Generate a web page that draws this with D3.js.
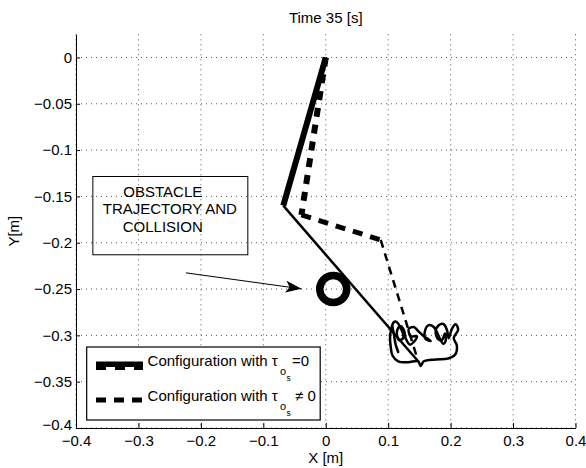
<!DOCTYPE html>
<html>
<head>
<meta charset="utf-8">
<script src="https://cdn.jsdelivr.net/npm/d3@7"></script>
<style>
  body { margin: 0; background: #fff; }
  text { font-family: "Liberation Sans", Arial, Helvetica, sans-serif; fill: #000; }
</style>
</head>
<body>
<div id="chart"></div>
<script>
// Chart data
var xTicks = [-0.4, -0.3, -0.2, -0.1, 0, 0.1, 0.2, 0.3, 0.4];
var xTickLabels = ["\u22120.4", "\u22120.3", "\u22120.2", "\u22120.1", "0", "0.1", "0.2", "0.3", "0.4"];
var yTicks = [-0.4, -0.35, -0.3, -0.25, -0.2, -0.15, -0.1, -0.05, 0];
var yTickLabels = ["\u22120.4", "\u22120.35", "\u22120.3", "\u22120.25", "\u22120.2", "\u22120.15", "\u22120.1", "\u22120.05", "0"];

// configuration with tau = 0 (solid): joints base, elbow, end
var solidX = [0, -0.068, 0.148];
var solidY = [0, -0.160, -0.328];
// configuration with tau != 0 (dashed)
var dashX = [0, -0.039, 0.088, 0.148];
var dashY = [0, -0.170, -0.197, -0.328];

// obstacle
var obstacleX = [0.012];
var obstacleY = [-0.250];

// obstacle trajectory (scribble)
var trajX = [0.106, 0.103, 0.104, 0.107, 0.116, 0.132, 0.148, 0.152, 0.157, 0.176, 0.196, 0.207, 0.210, 0.205,
  0.212, 0.208, 0.202, 0.197, 0.194, 0.189, 0.181, 0.176, 0.180, 0.186, 0.191, 0.192, 0.188, 0.173, 0.165,
  0.159, 0.160, 0.168, 0.157, 0.149, 0.141, 0.133, 0.136, 0.146, 0.141, 0.135, 0.128, 0.125, 0.119, 0.114,
  0.117, 0.124, 0.120, 0.112, 0.107, 0.109, 0.112, 0.116];
var trajY = [-0.290, -0.301, -0.312, -0.322, -0.328, -0.329, -0.328, -0.333, -0.328, -0.326, -0.325, -0.321,
  -0.311, -0.303, -0.294, -0.288, -0.293, -0.303, -0.294, -0.288, -0.289, -0.296, -0.304, -0.305, -0.298,
  -0.306, -0.309, -0.291, -0.289, -0.295, -0.304, -0.306, -0.301, -0.296, -0.291, -0.293, -0.301, -0.301,
  -0.307, -0.310, -0.303, -0.294, -0.290, -0.296, -0.305, -0.303, -0.292, -0.285, -0.288, -0.298, -0.310, -0.318];

// annotation (data coords)
var noteBox = [-0.373, -0.1285, -0.1248, -0.213];   // x0, y0, x1, y1
var noteLines = ["OBSTACLE", "TRAJECTORY AND", "COLLISION"];
var noteLineX = [-0.261, -0.2497, -0.261];
var noteLineY = [-0.1506, -0.1693, -0.188];
var arrowX = [-0.224, -0.0388];
var arrowY = [-0.2325, -0.2498];

// Chart params
var svgWidth = 586;
var svgHeight = 468;
var margin = { top: 34.3, right: 10.5, bottom: 40, left: 76 };
var width = svgWidth - margin.left - margin.right;
var height = svgHeight - margin.top - margin.bottom;

var svg = d3.select("#chart")
  .append("svg")
  .attr("width", svgWidth)
  .attr("height", svgHeight);

svg.append("rect").attr("width", svgWidth).attr("height", svgHeight).attr("fill", "#fff");

var chartGroup = svg.append("g")
  .attr("transform", `translate(${margin.left}, ${margin.top})`);

var xScale = d3.scaleLinear().domain([-0.4, 0.4]).range([0, width]);
var yScale = d3.scaleLinear().domain([-0.4, 0.025]).range([height, 0]);

// Grid
chartGroup.append("g")
  .selectAll("line.vgrid")
  .data(xTicks)
  .enter()
  .append("line")
  .attr("x1", d => xScale(d)).attr("x2", d => xScale(d))
  .attr("y1", 0).attr("y2", height)
  .attr("stroke", "#555").attr("stroke-width", 1).attr("stroke-dasharray", "1,4");

chartGroup.append("g")
  .selectAll("line.hgrid")
  .data(yTicks)
  .enter()
  .append("line")
  .attr("x1", 0).attr("x2", width)
  .attr("y1", d => yScale(d)).attr("y2", d => yScale(d))
  .attr("stroke", "#555").attr("stroke-width", 1).attr("stroke-dasharray", "1,4");

// Axes
var bottomAxis = d3.axisBottom(xScale)
  .tickValues(xTicks)
  .tickFormat((d, i) => xTickLabels[i])
  .tickSizeInner(-5).tickSizeOuter(0).tickPadding(7);
var leftAxis = d3.axisLeft(yScale)
  .tickValues(yTicks)
  .tickFormat((d, i) => yTickLabels[i])
  .tickSizeInner(-4).tickSizeOuter(0).tickPadding(4);

var xAxisG = chartGroup.append("g")
  .attr("transform", `translate(0, ${height})`)
  .call(bottomAxis);
var yAxisG = chartGroup.append("g").call(leftAxis);

[xAxisG, yAxisG].forEach(function(g) {
  g.selectAll("text").attr("font-size", 15).attr("font-family", null);
  g.select(".domain").attr("stroke", "#000");
  g.selectAll(".tick line").attr("stroke", "#000");
});
// the -0.4 y label sits just above the corner
yAxisG.selectAll(".tick text").filter(d => d === -0.4).attr("dy", "0.1em");

// Titles
svg.append("text")
  .attr("x", margin.left + width / 2).attr("y", 23)
  .attr("text-anchor", "middle").attr("font-size", 15)
  .text("Time 35 [s]");
svg.append("text")
  .attr("x", margin.left + width / 2).attr("y", 463)
  .attr("text-anchor", "middle").attr("font-size", 15)
  .text("X [m]");
svg.append("text")
  .attr("transform", `translate(19, ${margin.top + height / 2})rotate(-90)`)
  .attr("text-anchor", "middle").attr("font-size", 15)
  .text("Y[m]");

// Robot configurations
function seg(xs, ys, i) {
  return `M${xScale(xs[i])},${yScale(ys[i])}L${xScale(xs[i + 1])},${yScale(ys[i + 1])}`;
}
var dashStyle = [
  { w: 6, dash: "9,8" },
  { w: 5, dash: "10,8" },
  { w: 2.5, dash: "8,6" }
];
dashStyle.forEach(function(s, i) {
  chartGroup.append("path")
    .attr("d", seg(dashX, dashY, i))
    .attr("fill", "none").attr("stroke", "#000")
    .attr("stroke-width", s.w).attr("stroke-dasharray", s.dash);
});
chartGroup.append("path")
  .attr("d", seg(solidX, solidY, 0))
  .attr("fill", "none").attr("stroke", "#000").attr("stroke-width", 6);
chartGroup.append("path")
  .attr("d", seg(solidX, solidY, 1))
  .attr("fill", "none").attr("stroke", "#000").attr("stroke-width", 2.5);

// Obstacle
chartGroup.selectAll("circle.obstacle")
  .data(obstacleX)
  .enter()
  .append("circle")
  .attr("cx", (d) => xScale(d))
  .attr("cy", (d, i) => yScale(obstacleY[i]))
  .attr("r", 13.5)
  .attr("fill", "none").attr("stroke", "#000").attr("stroke-width", 7.5);

// Obstacle trajectory
var trajLine = d3.line()
  .x(d => xScale(trajX[d]))
  .y(d => yScale(trajY[d]))
  .curve(d3.curveCatmullRom);
chartGroup.append("path")
  .attr("d", trajLine(d3.range(trajX.length)))
  .attr("fill", "none").attr("stroke", "#000").attr("stroke-width", 2.5)
  .attr("stroke-linejoin", "round").attr("stroke-linecap", "round");

// Annotation
chartGroup.append("rect")
  .attr("x", xScale(noteBox[0])).attr("y", yScale(noteBox[1]))
  .attr("width", xScale(noteBox[2]) - xScale(noteBox[0]))
  .attr("height", yScale(noteBox[3]) - yScale(noteBox[1]))
  .attr("fill", "none").attr("stroke", "#000").attr("stroke-width", 1);
chartGroup.selectAll("text.note")
  .data(noteLines)
  .enter()
  .append("text")
  .attr("x", (d, i) => xScale(noteLineX[i]))
  .attr("y", (d, i) => yScale(noteLineY[i]))
  .attr("text-anchor", "middle").attr("font-size", 15)
  .text(d => d);

svg.append("defs").append("marker")
  .attr("id", "head")
  .attr("viewBox", "0 0 16 12")
  .attr("refX", 16).attr("refY", 6)
  .attr("markerWidth", 16).attr("markerHeight", 12)
  .attr("markerUnits", "userSpaceOnUse")
  .attr("orient", "auto")
  .append("path")
  .attr("d", "M0,0L16,6L0,12L4,6Z")
  .attr("fill", "#000");
chartGroup.append("line")
  .attr("x1", xScale(arrowX[0])).attr("y1", yScale(arrowY[0]))
  .attr("x2", xScale(arrowX[1])).attr("y2", yScale(arrowY[1]))
  .attr("stroke", "#000").attr("stroke-width", 1)
  .attr("marker-end", "url(#head)");

// Legend
var legend = svg.append("g");
legend.append("rect")
  .attr("x", 86.7).attr("y", 347).attr("width", 233.5).attr("height", 73)
  .attr("fill", "#fff").attr("stroke", "#000").attr("stroke-width", 1.2);
legend.append("line")
  .attr("x1", 96).attr("x2", 143).attr("y1", 364.3).attr("y2", 364.3)
  .attr("stroke", "#000").attr("stroke-width", 5.5);
legend.append("line")
  .attr("x1", 96).attr("x2", 143).attr("y1", 368.5).attr("y2", 368.5)
  .attr("stroke", "#000").attr("stroke-width", 3).attr("stroke-dasharray", "10,9");
legend.append("line")
  .attr("x1", 96).attr("x2", 142).attr("y1", 400).attr("y2", 400)
  .attr("stroke", "#000").attr("stroke-width", 5).attr("stroke-dasharray", "10,8");

var entries = [
  { y: 366, tail: "=0", tailX: 292 },
  { y: 401, tail: "\u2260 0", tailX: 295 }
];
entries.forEach(function(e) {
  var t = legend.append("text").attr("font-size", 15).attr("y", e.y);
  t.append("tspan").attr("x", 147.6).text("Configuration with \u03c4");
  t.append("tspan").attr("x", 280).attr("y", e.y + 9).attr("font-size", 11).text("o");
  t.append("tspan").attr("x", 286.5).attr("y", e.y + 15).attr("font-size", 8.5).text("s");
  t.append("tspan").attr("x", e.tailX).attr("y", e.y).text(e.tail);
});
</script>
</body>
</html>
